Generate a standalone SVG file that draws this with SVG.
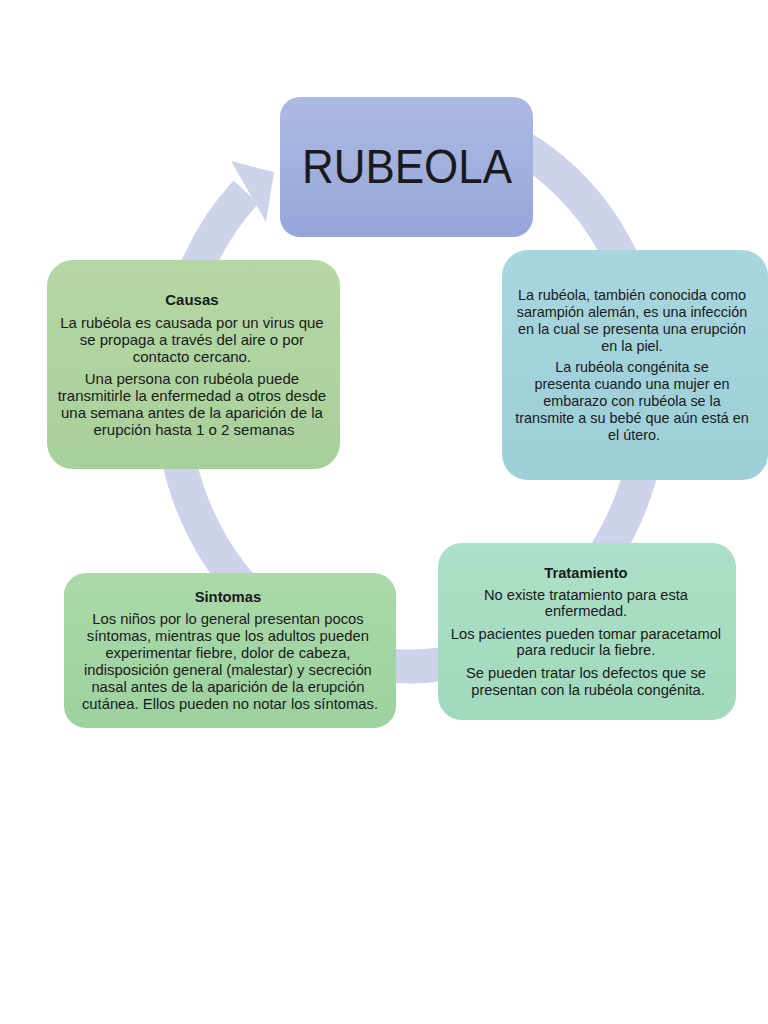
<svg xmlns="http://www.w3.org/2000/svg" width="768" height="1024" viewBox="0 0 768 1024">
<defs>
<linearGradient id="gTop" x1="0" y1="0" x2="0" y2="1"><stop offset="0" stop-color="#acbae3"/><stop offset="1" stop-color="#96a6d9"/></linearGradient>
<linearGradient id="gRight" x1="0" y1="0" x2="0" y2="1"><stop offset="0" stop-color="#a8d6df"/><stop offset="1" stop-color="#9ccfd8"/></linearGradient>
<linearGradient id="gCausas" x1="0" y1="0" x2="0" y2="1"><stop offset="0" stop-color="#b5d7a4"/><stop offset="1" stop-color="#a8d09a"/></linearGradient>
<linearGradient id="gSint" x1="0" y1="0" x2="0" y2="1"><stop offset="0" stop-color="#aad9aa"/><stop offset="1" stop-color="#9cd29f"/></linearGradient>
<linearGradient id="gTrat" x1="0" y1="0" x2="0" y2="1"><stop offset="0" stop-color="#ade0c8"/><stop offset="1" stop-color="#a0d9bd"/></linearGradient>
</defs>
<style>
.ring{fill:none;stroke:#cdd3ea;stroke-width:34}
.head{fill:#cdd3ea}
.t{font-family:"Liberation Sans",Arial,sans-serif;fill:#1a1a1a;text-anchor:middle}
.b{font-weight:bold}
</style>
<rect width="768" height="1024" fill="#ffffff"/>
<g id="connectors">
<path class="ring" d="M 480,128 A 240 275 0 1 1 246,192"/>
<polygon class="head" points="231,161 274,172 266,222"/>
</g>
<g id="node-rubeola">
<rect x="280" y="97" width="253" height="140" rx="20" fill="url(#gTop)"/>
<text class="t" x="407" y="183" font-size="48" textLength="210" lengthAdjust="spacingAndGlyphs" fill="#111">RUBEOLA</text>
</g>
<g id="node-definicion">
<rect x="502" y="250" width="266" height="230" rx="26" fill="url(#gRight)"/>
<text class="t" font-size="14.4">
<tspan x="634" y="300">La rubéola, también conocida como</tspan>
<tspan x="634" y="317">sarampión alemán, es una infección</tspan>
<tspan x="634" y="334">en la cual se presenta una erupción</tspan>
<tspan x="634" y="351">en la piel.</tspan>
<tspan x="634" y="372">La rubéola congénita se</tspan>
<tspan x="634" y="389">presenta cuando una mujer en</tspan>
<tspan x="634" y="406">embarazo con rubéola se la</tspan>
<tspan x="634" y="423">transmite a su bebé que aún está en</tspan>
<tspan x="634" y="440">el útero.</tspan>
</text>
</g>
<g id="node-causas">
<rect x="47" y="260" width="293" height="209" rx="26" fill="url(#gCausas)"/>
<text class="t" font-size="15">
<tspan class="b" x="194" y="305">Causas</tspan>
<tspan x="194" y="328">La rubéola es causada por un virus que</tspan>
<tspan x="194" y="345">se propaga a través del aire o por</tspan>
<tspan x="194" y="362">contacto cercano.</tspan>
<tspan x="194" y="384">Una persona con rubéola puede</tspan>
<tspan x="194" y="401">transmitirle la enfermedad a otros desde</tspan>
<tspan x="194" y="418">una semana antes de la aparición de la</tspan>
<tspan x="194" y="435">erupción hasta 1 o 2 semanas</tspan>
</text>
</g>
<g id="node-sintomas">
<rect x="64" y="573" width="332" height="155" rx="22" fill="url(#gSint)"/>
<text class="t" font-size="14.8">
<tspan class="b" x="230" y="602">Sintomas</tspan>
<tspan x="230" y="624">Los niños por lo general presentan pocos</tspan>
<tspan x="230" y="641">síntomas, mientras que los adultos pueden</tspan>
<tspan x="230" y="658">experimentar fiebre, dolor de cabeza,</tspan>
<tspan x="230" y="675">indisposición general (malestar) y secreción</tspan>
<tspan x="230" y="692">nasal antes de la aparición de la erupción</tspan>
<tspan x="230" y="709">cutánea. Ellos pueden no notar los síntomas.</tspan>
</text>
</g>
<g id="node-tratamiento">
<rect x="438" y="543" width="298" height="177" rx="24" fill="url(#gTrat)"/>
<text class="t" font-size="14.7">
<tspan class="b" x="588" y="578">Tratamiento</tspan>
<tspan x="588" y="600">No existe tratamiento para esta</tspan>
<tspan x="588" y="616">enfermedad.</tspan>
<tspan x="588" y="639">Los pacientes pueden tomar paracetamol</tspan>
<tspan x="588" y="655">para reducir la fiebre.</tspan>
<tspan x="588" y="678">Se pueden tratar los defectos que se</tspan>
<tspan x="588" y="695">presentan con la rubéola congénita.</tspan>
</text>
</g>
</svg>
